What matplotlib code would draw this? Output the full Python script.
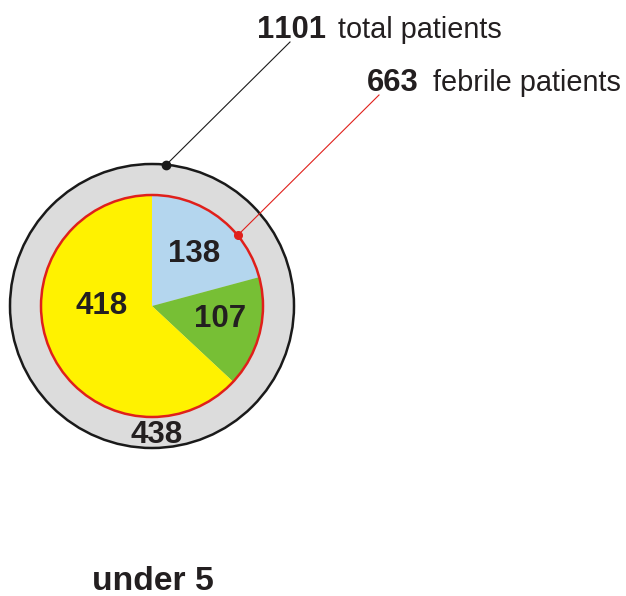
import matplotlib
matplotlib.use("Agg")
import matplotlib.pyplot as plt
from matplotlib.patches import Circle

plt.rcParams['font.family'] = ['Liberation Sans', 'DejaVu Sans']
plt.rcParams['text.kerning_factor'] = 16

# data
categories = ["group A", "group B", "group C"]
febrile_values = [138, 107, 418]
slice_labels = ["138", "107", "418"]
non_febrile = 438
total_patients = 1101
febrile_patients = 663
title = "under 5"

colors = ["#b4d6ee", "#77bf35", "#fff200"]
txt = "#231f20"

W, H = 626, 596
fig = plt.figure(figsize=(W / 100, H / 100), dpi=100)
ax = fig.add_axes([0, 0, 1, 1])

def Y(py):
    return H - py

cx, cy = 152, Y(306)
R_out, R_in = 142, 111

ax.add_patch(Circle((cx, cy), R_out, facecolor="#dcdcdc", edgecolor="#1a1a1a", lw=1.8, zorder=1))
ax.pie(febrile_values, colors=colors, startangle=90, counterclock=False,
       center=(cx, cy), radius=R_in, frame=True,
       wedgeprops=dict(linewidth=0, zorder=2))
ax.set_xlim(0, W)
ax.set_ylim(0, H)
ax.set_aspect('equal')
ax.axis('off')
ax.add_patch(Circle((cx, cy), R_in, facecolor="none", edgecolor="#e0201b", lw=1.8, zorder=3))

# leader lines
ax.plot([166, 290], [Y(165), Y(42)], color="#1a1a1a", lw=0.8, zorder=4)
ax.plot([166], [Y(165)], 'o', color="#1a1a1a", ms=6, zorder=5)
ax.plot([238, 379], [Y(235), Y(95)], color="#e0201b", lw=0.8, zorder=4)
ax.plot([238], [Y(235)], 'o', color="#e0201b", ms=5.5, zorder=5)

fs = 22
ax.text(257, Y(38), str(total_patients), fontsize=fs + 0.3, fontweight='bold', color=txt, ha='left', va='baseline')
ax.text(338, Y(38), "total patients", fontsize=fs - 1.2, color=txt, ha='left', va='baseline')
ax.text(367, Y(91), str(febrile_patients), fontsize=fs + 0.3, fontweight='bold', color=txt, ha='left', va='baseline')
ax.text(433, Y(91), "febrile patients", fontsize=fs - 1.2, color=txt, ha='left', va='baseline')

label_pos = [(194, 262), (220.5, 327), (102, 314)]
for lab, (x, y) in zip(slice_labels, label_pos):
    ax.text(x, Y(y), lab, fontsize=fs + 0.5, fontweight='bold', color=txt, ha='center', va='baseline', zorder=6)
ax.text(157, Y(443), str(non_febrile), fontsize=fs + 0.5, fontweight='bold', color=txt, ha='center', va='baseline', zorder=6)

ax.text(92, Y(590), title, fontsize=fs + 2.3, fontweight='bold', color=txt, ha='left', va='baseline')

fig.savefig("out.png", dpi=100)
